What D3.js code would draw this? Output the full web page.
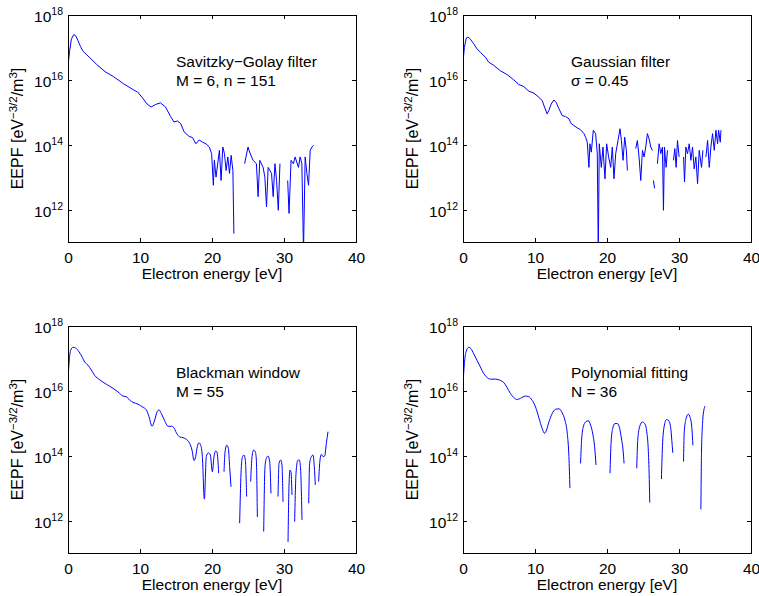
<!DOCTYPE html>
<html>
<head>
<meta charset="utf-8">
<script src="https://cdn.jsdelivr.net/npm/d3@7"></script>
<style>
  body { margin: 0; background: #fff; }
  svg { display: block; }
  text { font-family: "Liberation Sans", Arial, Helvetica, sans-serif; fill: #000; }
</style>
</head>
<body>
<svg id="fig" width="759" height="596"></svg>
<script>
// ---- shared axis settings ----
const xDomain = [0, 40];
const yDomain = [1e11, 1e18];
const xTicks = [0, 10, 20, 30, 40];
const yTickExponents = [12, 14, 16, 18];
const xLabel = "Electron energy [eV]";

// ---- Savitzky-Golay filter (M = 6, n = 151) ----
const sgNotes = ["Savitzky\u2212Golay filter", "M = 6, n = 151"];
const sgEnergy = [0,0.23,0.47,0.8,1.07,1.4,1.73,2.1,2.57,3.04,3.97,5.14,6.31,7.71,9.11,9.67,10.28,10.98,11.54,12.15,
  12.85,13.55,14.25,14.72,15.19,15.65,16.12,16.82,17.29,17.76,18.22,18.69,19.16,19.63,19.95,20.19,20.33,20.56,20.79,21.03,
  21.26,21.5,21.73,21.96,22.2,22.43,22.66,22.9,23.04,23.2,24.53,25.0,25.23,25.7,26.17,26.4,26.64,27.1,27.34,27.57,
  27.8,28.27,28.5,28.74,28.97,29.21,29.44,30.0,30.51,30.7,30.98,31.31,31.54,32.01,32.24,32.48,32.71,32.94,33.18,33.41,
  33.64,33.88,34.11];
const sgEepf = [2.8e16,7.9e16,1.8e17,2.5e17,2.3e17,1.6e17,1.07e17,7.6e16,6.0e16,4.8e16,3.0e16,1.8e16,1.26e16,7.6e15,4.9e15,4.2e15,2.9e15,1.8e15,1.45e15,1.74e15,
  1.95e15,1.45e15,7.4e14,5.0e14,5.4e14,4.5e14,2.5e14,1.8e14,1.66e14,1.07e14,1.4e14,1.2e14,1.07e14,8.5e13,5.3e13,5.6e12,3.3e13,1.0e13,2.6e13,6.7e13,
  7.9e12,8.5e13,5.3e13,1.6e13,4.2e13,1.3e13,4.7e13,1.6e13,1.8e11,null,2.6e13,8.5e13,5.9e13,3.3e13,2.6e13,2.5e12,3.3e13,2.0e13,1.0e13,1.2e12,
  2.0e13,1.3e13,2.5e12,2.6e13,7.9e12,9.5e11,2.6e13,null,7.9e12,7.6e11,3.3e13,2.6e13,4.2e13,2.0e13,4.2e13,2.6e13,5e10,4.2e13,1.3e13,5.6e12,
  6.7e13,8.5e13,9.5e13];

// ---- Gaussian filter (sigma = 0.45) ----
const gaussNotes = ["Gaussian filter", "\u03c3 = 0.45"];
const gaussEnergy = [0,0.19,0.46,0.7,1.02,1.48,1.95,2.41,3.11,3.57,4.27,5.2,6.13,7.05,7.75,8.45,9.14,9.84,10.53,11.0,
  11.32,11.69,11.93,12.25,12.62,12.95,13.32,13.78,14.25,14.71,15.03,15.41,15.87,16.33,16.8,17.03,17.26,17.49,17.63,17.82,
  18.1,18.42,18.65,18.79,18.93,19.21,19.44,19.72,19.95,20.23,20.51,20.74,20.97,21.21,21.53,21.81,22.0,22.23,22.46,22.69,
  22.83,23.4,
  23.99,24.22,24.45,24.69,24.92,25.15,25.38,25.61,25.85,26.08,26.31,26.38,
  26.45,26.6,26.8,
  27.0,27.24,27.47,27.7,27.84,27.98,28.21,28.4,28.8,
  29.23,29.42,29.6,29.79,30.02,30.3,
  30.63,30.77,30.95,31.18,31.42,31.65,31.88,32.11,32.34,32.58,32.81,33.13,33.32,33.5,
  33.74,33.97,34.2,34.43,34.66,34.9,35.13,35.36,35.5,35.73,35.83];
const gaussEepf = [3.5e16,1.0e17,1.95e17,2.1e17,1.8e17,1.3e17,9.0e16,7.1e16,5.0e16,3.5e16,2.8e16,1.9e16,1.45e16,1.0e16,7.2e15,6.2e15,4.5e15,3.9e15,2.9e15,2.3e15,
  1.45e15,8.9e14,1.15e15,1.8e15,2.4e15,2.0e15,1.3e15,7.9e14,7.4e14,6.3e14,4.5e14,3.9e14,3.3e14,2.9e14,2.2e14,1.7e14,1.2e14,2.0e13,1.07e14,5.9e13,
  2.8e14,2.2e14,5.3e13,5e10,1.07e14,2.0e13,8.5e13,8.9e12,1.07e14,4.2e13,2.0e13,8.5e13,8.9e12,5.3e13,1.35e14,3.1e14,1.35e14,3.3e13,1.7e14,6.7e13,
  1.6e13,null,
  7.6e13,1.35e14,4.2e13,7.9e12,6.7e13,4.2e13,8.5e13,2.2e14,1.5e14,8.5e13,6.7e13,null,
  7.9e12,4.5e12,null,
  2.6e13,1.07e14,5.3e13,8.5e13,9.5e11,8.5e13,2.0e13,6.7e13,null,
  3.3e13,7.6e13,2.0e13,1.35e14,4.2e13,null,
  4.2e13,7.1e12,8.5e13,5.3e13,1.07e14,3.3e13,8.5e13,1.8e13,4.2e13,6.3e12,6.7e13,2.0e13,6.7e13,null,
  4.2e13,1.35e14,2.0e13,8.5e13,2.2e14,6.7e13,2.8e14,1.07e14,2.8e14,1.2e14,2.8e14];

// ---- Blackman window (M = 55) ----
const blackmanNotes = ["Blackman window", "M = 55"];
const blackmanEnergy = [0,0.14,0.37,0.69,1.06,1.53,2.0,2.31,2.78,3.24,3.7,4.4,5.32,6.25,6.94,7.64,8.1,8.56,9.03,9.72,
  10.42,10.88,11.25,11.67,12.04,12.36,12.64,12.96,13.43,13.89,14.35,14.68,15.05,15.51,15.97,16.44,16.9,17.22,17.5,17.73,
  17.96,18.19,18.43,18.66,18.94,19.21,19.49,19.77,20.05,20.28,20.51,20.69,20.93,21.3,
  21.67,21.81,22.04,22.27,22.45,22.64,23.2,
  23.84,24.03,24.21,24.44,24.63,24.81,25.1,
  25.37,25.56,25.79,26.02,26.16,26.3,26.7,
  27.18,27.36,27.55,27.78,28.01,28.19,28.7,
  29.17,29.31,29.54,29.72,29.86,30.2,
  30.56,30.69,30.83,30.97,31.11,31.3,
  31.48,31.67,31.9,32.13,32.31,32.5,33.0,
  33.43,33.56,33.8,34.03,34.21,34.35,34.6,
  34.81,35.0,35.19,35.42,35.65,35.88,36.11];
const blackmanEepf = [2.1e16,6.9e16,1.8e17,2.2e17,2.1e17,1.6e17,1.07e17,7.8e16,6.2e16,4.4e16,3.0e16,2.2e16,1.6e16,1.2e16,9.3e15,6.9e15,6.6e15,5.2e15,4.4e15,3.9e15,
  3.1e15,2.6e15,1.6e15,8.1e14,1.26e15,2.2e15,2.6e15,2.0e15,1.2e15,8.1e14,8.1e14,7.4e14,5.1e14,3.8e14,3.6e14,3.2e14,2.4e14,1.5e14,7.1e13,9.4e13,
  1.9e14,2.5e14,2.1e14,9.4e13,4.6e12,9.4e13,1.23e14,1.05e14,3.2e13,9.4e13,1.4e14,1.3e14,2.9e13,null,
  3.2e13,1.3e14,2.1e14,1.7e14,4.6e13,1.1e13,null,
  8.3e11,2.9e13,8.9e13,1.05e14,7.4e13,5.5e12,null,
  1.6e13,9.4e13,1.5e14,1.3e14,7.4e13,1.3e12,null,
  4.6e11,4.6e13,8.3e13,9.8e13,6.6e13,6.9e12,null,
  5.5e12,5.8e13,7.4e13,5.1e13,3.8e12,null,
  2.2e11,1.1e13,3.6e13,3.2e13,6.2e12,null,
  9.3e11,2.9e13,7.1e13,7.4e13,3.6e13,1.05e12,null,
  3.4e12,5.8e13,9.4e13,1.05e14,4.6e13,1.26e13,null,
  1.6e13,7.4e13,1.1e14,9.4e13,9.8e13,2.4e14,5.5e14];

// ---- Polynomial fitting (N = 36) ----
const polyNotes = ["Polynomial fitting", "N = 36"];
const polyEnergy = [0,0.19,0.42,0.79,1.11,1.48,1.95,2.41,2.88,3.34,3.81,4.5,5.2,5.66,6.13,6.59,7.05,7.52,7.98,8.68,
  9.14,9.61,10.07,10.53,11.0,11.32,11.6,11.93,12.39,12.85,13.32,13.78,14.15,14.48,14.71,14.85,15.5,
  16.33,16.47,16.71,17.03,17.4,17.73,18.05,18.28,18.47,19.5,
  20.42,20.56,20.79,21.11,21.44,21.76,22.04,22.23,22.37,23.3,
  24.13,24.27,24.55,24.92,25.24,25.52,25.71,25.85,25.94,26.7,
  27.56,27.7,27.93,28.26,28.58,28.86,29.0,29.14,29.9,
  30.63,30.72,30.95,31.28,31.55,31.79,31.93,32.5,
  33.04,33.13,33.27,33.46,33.64];
const polyEepf = [1.5e16,6.9e16,1.6e17,2.2e17,2.0e17,1.4e17,8.7e16,5.5e16,3.4e16,2.6e16,2.3e16,2.3e16,2.1e16,1.8e16,1.26e16,8.3e15,6.2e15,5.4e15,5.9e15,6.9e15,
  6.6e15,5.1e15,3.2e15,1.5e15,6.9e14,4.9e14,6.2e14,1.1e15,2.0e15,2.7e15,2.8e15,2.1e15,1.26e15,4.9e14,9.4e13,1.0e13,null,
  5.8e13,3.0e14,7.8e14,1.1e15,1.2e15,8.7e14,4.4e14,1.9e14,5.2e13,null,
  2.9e13,2.4e14,6.9e14,9.8e14,9.8e14,6.9e14,3.0e14,1.5e14,5.8e13,null,
  4.1e13,3.0e14,8.1e14,1.1e15,9.8e14,5.5e14,1.9e14,2.9e13,3.6e12,null,
  1.9e13,1.9e14,7.8e14,1.3e15,1.2e15,6.9e14,3.0e14,1.23e14,null,
  6.6e13,4.9e14,1.3e15,1.9e15,1.5e15,6.9e14,2.1e14,null,
  2.2e12,1.5e14,9.8e14,2.6e15,3.4e15];

// ---- figure layout ----
const plotW = 288, plotH = 227;
const panels = [
  { energy: sgEnergy,       eepf: sgEepf,       notes: sgNotes,       left: 68,  top: 15,  smooth: false },
  { energy: gaussEnergy,    eepf: gaussEepf,    notes: gaussNotes,    left: 463, top: 15,  smooth: false },
  { energy: blackmanEnergy, eepf: blackmanEepf, notes: blackmanNotes, left: 68,  top: 326, smooth: true },
  { energy: polyEnergy,     eepf: polyEepf,     notes: polyNotes,     left: 463, top: 326, smooth: true }
];

const svg = d3.select("#fig");
const FS = 15.5;

panels.forEach((p, i) => {
  const x = d3.scaleLinear().domain(xDomain).range([p.left, p.left + plotW]);
  const y = d3.scaleLog().domain(yDomain).range([p.top + plotH, p.top]);
  const g = svg.append("g");

  // data curve, clipped to the axes box; null values break the line
  const clipId = "clip" + i;
  g.append("clipPath").attr("id", clipId)
    .append("rect").attr("x", p.left).attr("y", p.top).attr("width", plotW).attr("height", plotH);
  const pts = p.energy.map((e, k) => ({ e, v: p.eepf[k] }));
  const line = d3.line()
    .defined(d => d.v != null)
    .x(d => x(d.e))
    .y(d => y(d.v))
    .curve(p.smooth ? d3.curveMonotoneX : d3.curveLinear);
  g.append("path")
    .attr("clip-path", `url(#${clipId})`)
    .attr("d", line(pts))
    .attr("fill", "none")
    .attr("stroke", "#0000ff")
    .attr("stroke-width", 1);

  // inward ticks on all four sides
  const tick = 4;
  const axes = [
    { a: d3.axisBottom(x).tickValues(xTicks).tickFormat(d3.format("d")).tickPadding(10), t: `translate(0,${p.top + plotH})` },
    { a: d3.axisTop(x).tickValues(xTicks).tickFormat(""), t: `translate(0,${p.top})` },
    { a: d3.axisLeft(y).tickValues(yTickExponents.map(k => Math.pow(10, k))).tickFormat(""), t: `translate(${p.left},0)` },
    { a: d3.axisRight(y).tickValues(yTickExponents.map(k => Math.pow(10, k))).tickFormat(""), t: `translate(${p.left + plotW},0)` }
  ];
  axes.forEach(ax => {
    const ag = g.append("g").attr("transform", ax.t)
      .call(ax.a.tickSizeInner(-tick).tickSizeOuter(0));
    ag.attr("font-size", null).attr("font-family", null);
    ag.select(".domain").remove();
    ag.selectAll("line").attr("stroke", "#000").attr("shape-rendering", "crispEdges");
    ag.selectAll("text").attr("font-size", FS).attr("fill", "#000");
  });

  // log tick labels 10^k
  yTickExponents.forEach(k => {
    const t = g.append("text")
      .attr("x", p.left - 5)
      .attr("y", y(Math.pow(10, k)) + 7)
      .attr("text-anchor", "end")
      .attr("font-size", FS);
    t.append("tspan").text("10");
    t.append("tspan").attr("font-size", 10.5).attr("dy", -7).text(k);
  });

  // axes box
  g.append("rect")
    .attr("x", p.left).attr("y", p.top).attr("width", plotW).attr("height", plotH)
    .attr("fill", "none").attr("stroke", "#000").attr("stroke-width", 1)
    .attr("shape-rendering", "crispEdges");

  // axis titles
  g.append("text")
    .attr("x", p.left + plotW / 2)
    .attr("y", p.top + plotH + 37)
    .attr("text-anchor", "middle")
    .attr("font-size", FS)
    .text(xLabel);

  const yl = g.append("text")
    .attr("transform", `translate(${p.left - 45},${p.top + plotH / 2}) rotate(-90)`)
    .attr("text-anchor", "middle")
    .attr("font-size", 16);
  yl.append("tspan").text("EEPF [eV");
  yl.append("tspan").attr("font-size", 11.5).attr("dy", -6).text("\u22123/2");
  yl.append("tspan").attr("dy", 6).text("/m");
  yl.append("tspan").attr("font-size", 11.5).attr("dy", -6).text("3");
  yl.append("tspan").attr("dy", 6).text("]");

  // method annotation
  p.notes.forEach((s, r) => {
    g.append("text")
      .attr("x", p.left + 108)
      .attr("y", p.top + 52 + r * 18.5)
      .attr("font-size", FS)
      .text(s);
  });
});
</script>
</body>
</html>
